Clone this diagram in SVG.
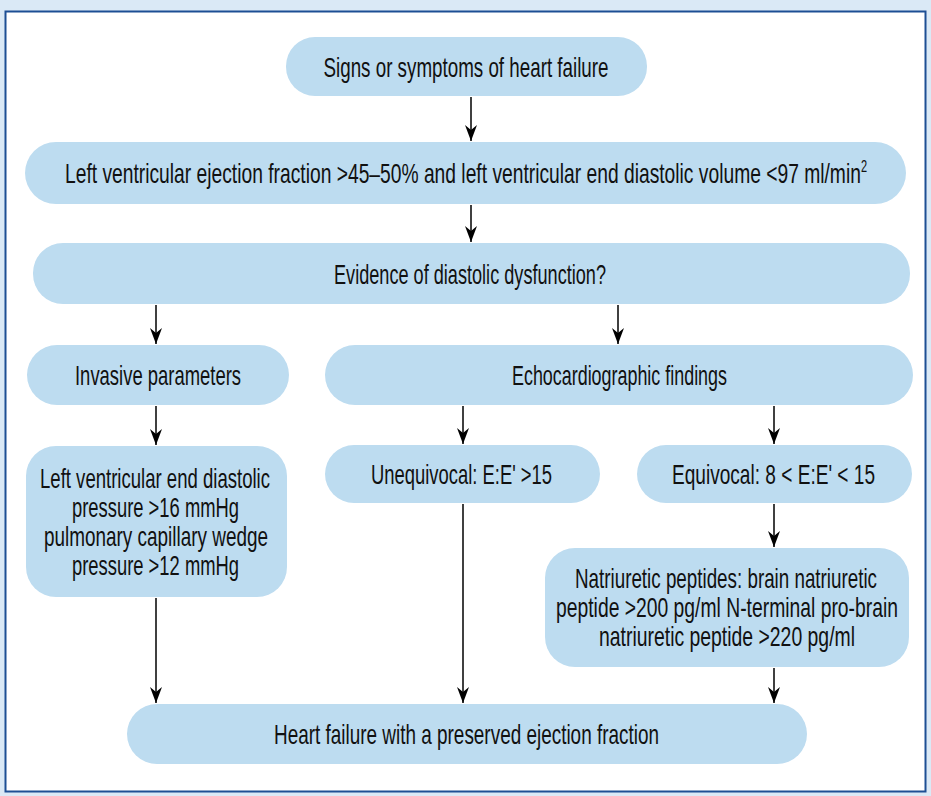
<svg xmlns="http://www.w3.org/2000/svg" width="931" height="796" viewBox="0 0 931 796">
<style>
.node{fill:#bddcf0}
.t{font-family:"Liberation Sans Narrow","Liberation Sans",Arial,sans-serif;font-size:28px;fill:#111;text-anchor:middle}
.c{stroke:#000;stroke-width:1.5;fill:none;marker-end:url(#ah)}
</style>
<defs>
<marker id="ah" viewBox="0 0 16 12" refX="16" refY="6" markerWidth="16" markerHeight="12" markerUnits="userSpaceOnUse" orient="auto">
<path d="M0,0 L16,6 L0,12 L5,6 Z" fill="#000"/>
</marker>
</defs>
<rect x="0" y="0" width="931" height="796" fill="#dae9f6"/>
<rect x="5.5" y="11.5" width="920" height="780" fill="#fff" stroke="#1d4f94" stroke-width="2"/>

<g id="n1"><rect class="node" x="286" y="37" width="361" height="59" rx="29"/><text class="t" x="466" y="77" textLength="285" lengthAdjust="spacingAndGlyphs">Signs or symptoms of heart failure</text></g>
<g id="n2"><rect class="node" x="25" y="142" width="881" height="62" rx="31"/><text class="t" x="466" y="183" textLength="802" lengthAdjust="spacingAndGlyphs">Left ventricular ejection fraction &gt;45–50% and left ventricular end diastolic volume &lt;97 ml/min<tspan font-size="16" dy="-11">2</tspan></text></g>
<g id="n3"><rect class="node" x="33" y="243" width="877" height="61" rx="30"/><text class="t" x="470" y="284" textLength="272" lengthAdjust="spacingAndGlyphs">Evidence of diastolic dysfunction?</text></g>
<g id="n4"><rect class="node" x="27" y="345" width="262" height="60" rx="30"/><text class="t" x="158" y="385" textLength="166" lengthAdjust="spacingAndGlyphs">Invasive parameters</text></g>
<g id="n5"><rect class="node" x="325" y="345" width="588" height="60" rx="30"/><text class="t" x="619.5" y="385" textLength="215" lengthAdjust="spacingAndGlyphs">Echocardiographic findings</text></g>
<g id="n6"><rect class="node" x="26" y="446" width="261" height="151" rx="30"/>
<text class="t" x="155" y="488" textLength="230" lengthAdjust="spacingAndGlyphs">Left ventricular end diastolic</text>
<text class="t" x="155.5" y="517" textLength="167" lengthAdjust="spacingAndGlyphs">pressure &gt;16 mmHg</text>
<text class="t" x="156" y="546" textLength="224" lengthAdjust="spacingAndGlyphs">pulmonary capillary wedge</text>
<text class="t" x="155.5" y="575" textLength="167" lengthAdjust="spacingAndGlyphs">pressure &gt;12 mmHg</text></g>
<g id="n7"><rect class="node" x="325" y="445" width="275" height="58" rx="29"/><text class="t" x="461.5" y="484" textLength="181" lengthAdjust="spacingAndGlyphs">Unequivocal: E:E' &gt;15</text></g>
<g id="n8"><rect class="node" x="637" y="445" width="275" height="58" rx="29"/><text class="t" x="773.5" y="484" textLength="203" lengthAdjust="spacingAndGlyphs">Equivocal: 8 &lt; E:E' &lt; 15</text></g>
<g id="n9"><rect class="node" x="545" y="548" width="364" height="119" rx="30"/>
<text class="t" x="726" y="588" textLength="302" lengthAdjust="spacingAndGlyphs">Natriuretic peptides: brain natriuretic</text>
<text class="t" x="727" y="617" textLength="342" lengthAdjust="spacingAndGlyphs">peptide &gt;200 pg/ml N-terminal pro-brain</text>
<text class="t" x="727" y="646" textLength="256" lengthAdjust="spacingAndGlyphs">natriuretic peptide &gt;220 pg/ml</text></g>
<g id="n10"><rect class="node" x="127" y="704" width="680" height="60" rx="30"/><text class="t" x="466.5" y="744" textLength="385" lengthAdjust="spacingAndGlyphs">Heart failure with a preserved ejection fraction</text></g>

<g id="connectors">
<line class="c" x1="471" y1="97" x2="471" y2="141"/>
<line class="c" x1="471" y1="205" x2="471" y2="242"/>
<line class="c" x1="156" y1="305" x2="156" y2="344"/>
<line class="c" x1="618" y1="305" x2="618" y2="344"/>
<line class="c" x1="156" y1="406" x2="156" y2="445"/>
<line class="c" x1="463" y1="406" x2="463" y2="444"/>
<line class="c" x1="774" y1="406" x2="774" y2="444"/>
<line class="c" x1="463" y1="504" x2="463" y2="703"/>
<line class="c" x1="156" y1="598" x2="156" y2="703"/>
<line class="c" x1="774" y1="504" x2="774" y2="547"/>
<line class="c" x1="774" y1="668" x2="774" y2="703"/>
</g>
</svg>
